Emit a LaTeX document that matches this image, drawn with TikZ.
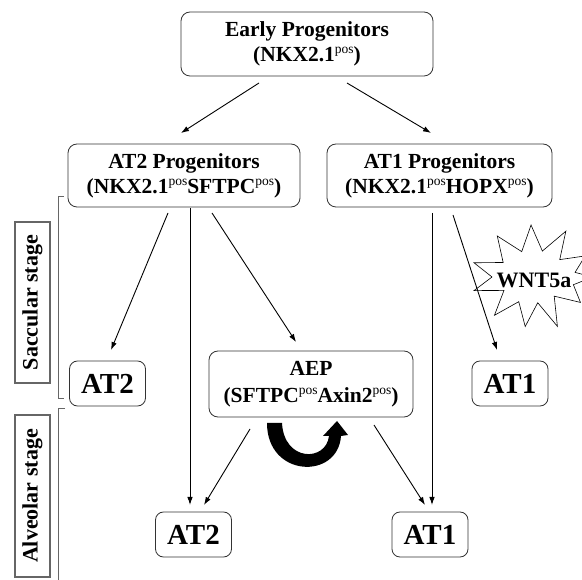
\documentclass[tikz,border=0pt]{standalone}
\usepackage{fontspec}
\setmainfont{Liberation Serif}
\usetikzlibrary{calc,arrows.meta}
\newcommand\posx{\raisebox{8pt}{\fontsize{13.5}{13.5}\selectfont\mdseries pos}}
\begin{document}
\begin{tikzpicture}[x=1pt,y=-1pt,
  box/.style={draw=black!80, line width=0.8pt, rounded corners=9pt, align=center, inner sep=0pt, font=\fontsize{21.5}{25}\selectfont\bfseries},
  cell/.style={draw=black!80, line width=0.8pt, rounded corners=8pt, inner sep=0pt, font=\fontsize{29}{29}\selectfont\bfseries, minimum width=76pt, minimum height=45pt},
  stagebox/.style={draw=black!60, line width=1.2pt, rotate=90, inner sep=0pt, minimum width=161pt, minimum height=35pt, font=\fontsize{22}{22}\selectfont\bfseries},
  link/.style={line width=0.9pt, -{Latex[length=8pt,width=5.5pt]}},
  bracket/.style={draw=black!60, line width=0.8pt}]
\useasboundingbox (0,0) rectangle (582,580);
\fill[white] (0,0) rectangle (582,580);

% boxes
\node[box, minimum width=252pt, minimum height=64pt] (early) at (307,44) {Early Progenitors\\(NKX2.1\posx)};
\node[box, minimum width=232pt, minimum height=63pt] (at2p) at (184,175.5) {AT2 Progenitors\\(NKX2.1\posx SFTPC\posx)};
\node[box, minimum width=225pt, minimum height=63pt] (at1p) at (439.5,175.5) {AT1 Progenitors\\(NKX2.1\posx HOPX\posx)};
\node[box, minimum width=204pt, minimum height=66pt, font=\fontsize{21.5}{27}\selectfont\bfseries] (aep) at (311,384) {AEP\\(SFTPC\posx Axin2\posx)};
\node[cell] (at2a) at (107.5,383.5) {AT2};
\node[cell] (at1a) at (510,383.5) {AT1};
\node[cell] (at2b) at (193.5,534.5) {AT2};
\node[cell] (at1b) at (430,534.5) {AT1};

% stage labels
\node[stagebox] (sacc) at (32.5,302.5) {Saccular stage};
\node[stagebox, minimum width=162pt] (alv) at (32.5,496) {Alveolar stage};
\draw[bracket] (64,196) -- (58,196) -- (58,398) -- (64,398);
\draw[bracket] (65,408) -- (58,408) -- (58,580);

% WNT5a burst
\coordinate (burst) at (533,277);
\draw[line width=0.6pt, fill=white] ($(burst)+(60,0)$)
  \foreach \a/\rx/\ry in {16/42/28, 32/56/48, 50/33/25, 66/60/54, 82/34/26, 98/56/50, 114/35/27, 130/60/50, 146/35/24, 162/62/44, 180/41/22, 198/62/46, 214/36/26, 232/58/52, 250/33/27, 268/56/52, 286/34/27, 302/62/54, 318/36/26, 334/58/48, 348/43/22}
  { -- ($(burst)+({\rx*cos(\a)},{\ry*sin(\a)})$) } -- cycle;
\node[font=\fontsize{22}{22}\selectfont\bfseries, inner sep=0pt] (wnt) at (534,280) {WNT5a};

% connectors
\draw[link] ($(early)+(-48,39)$) -- ($(at2p)+(-3,-42.5)$);
\draw[link] ($(early)+(40,39)$) -- ($(at1p)+(-8.5,-42.5)$);
\draw[link] ($(at2p)+(-16,37.5)$) -- ($(at2a)+(3.5,-33.5)$);
\draw[link] ($(at2p)+(6,32.5)$) -- ($(at2b)+(-3.5,-29.5)$);
\draw[link] ($(at2p)+(28,37.5)$) -- ($(aep)+(-15,-42)$);
\draw[link] ($(at1p)+(-7.5,37.5)$) -- ($(at1b)+(2,-29.5)$);
\draw[link] ($(at1p)+(13.5,39.5)$) -- ($(at1a)+(-13,-33.5)$);
\draw[link] ($(aep)+(-61,45)$) -- ($(at2b)+(10.5,-29.5)$);
\draw[link] ($(aep)+(63,41)$) -- ($(at1b)+(-5,-29.5)$);

% self-renewal arrow
\fill (267,423) .. controls (267,478) and (338,480) .. (341,436) -- (348,435) -- (337,421) -- (323,436) -- (329,436) .. controls (326,462) and (284,462) .. (282,423) -- cycle;
\end{tikzpicture}
\end{document}
